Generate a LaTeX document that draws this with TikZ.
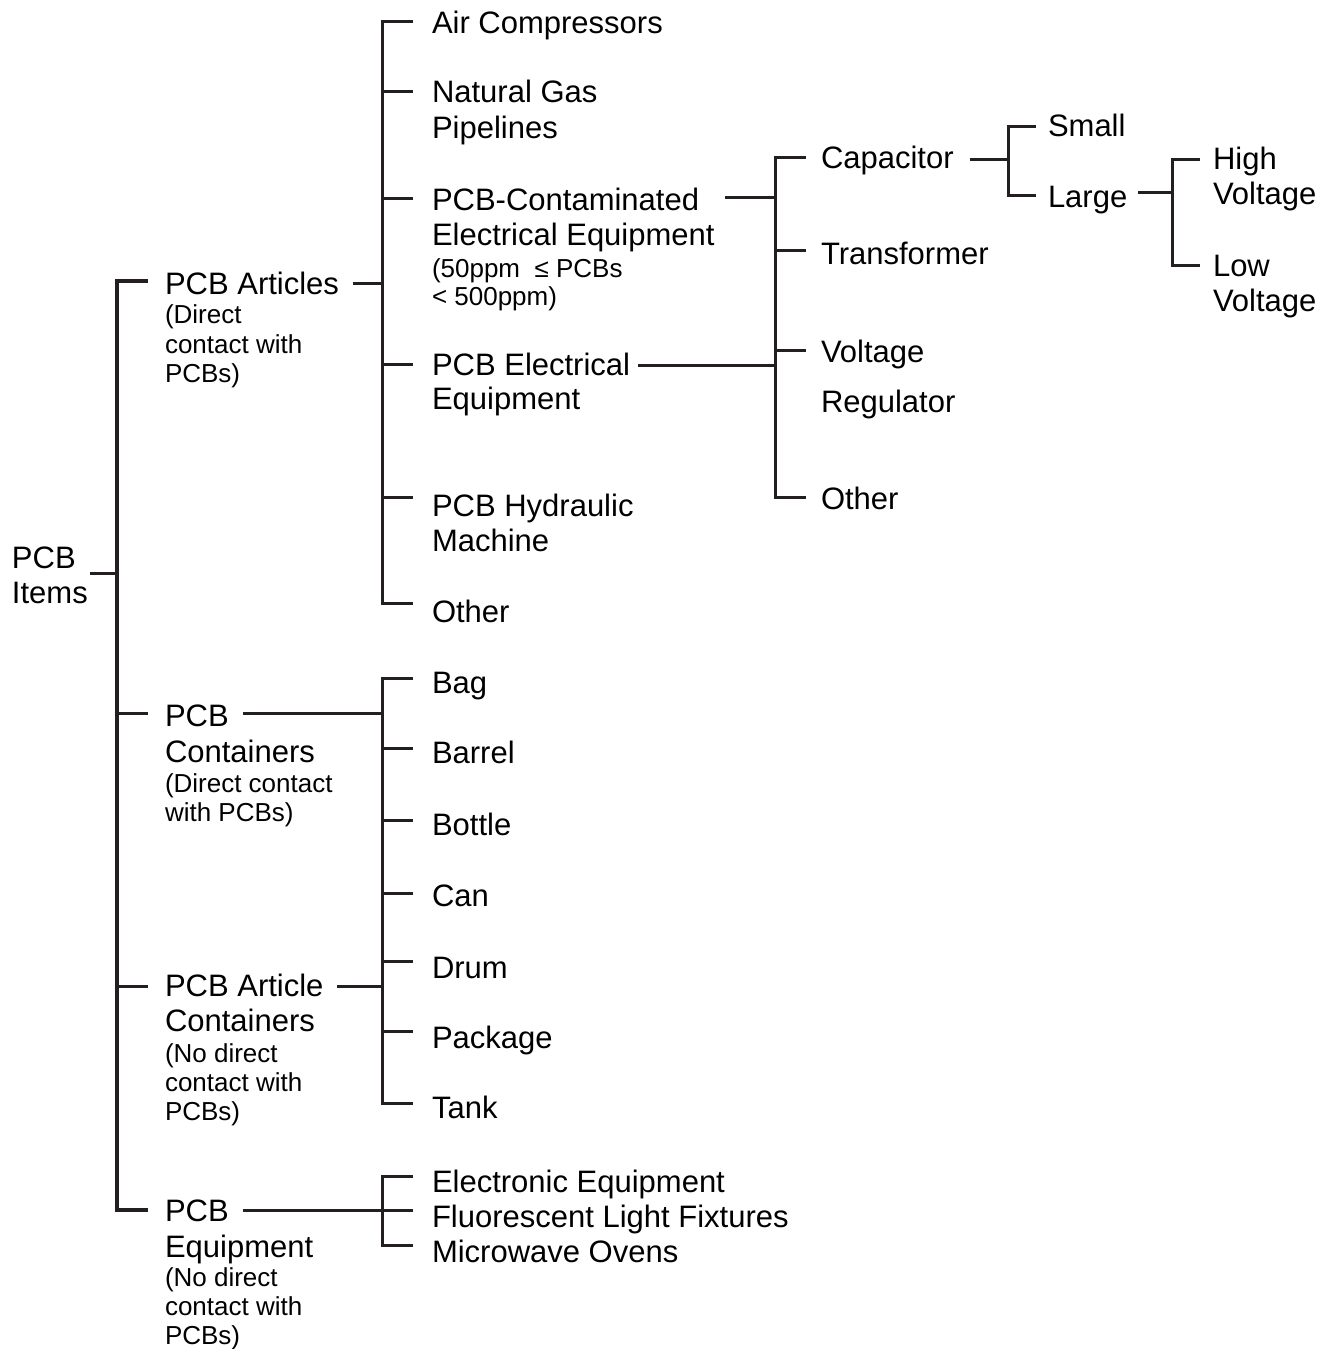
\documentclass[tikz,border=0pt]{standalone}
\usepackage{fontspec}
\setmainfont{Liberation Sans}
\definecolor{ink}{HTML}{231F20}
% font sizes for headings and notes
\newcommand\mainfs{\fontsize{31}{35}\selectfont}
\newcommand\subfs{\fontsize{26}{30}\selectfont}
% one line of a stacked label; optional arg = baseline distance to the line above
\newcommand\mainln[2][35]{\baselineskip=#1pt\hbox{\mainfs #2}}
\newcommand\subln[2][29.5]{\baselineskip=#1pt\hbox{\subfs #2}}
\begin{document}
\begin{tikzpicture}[x=1pt,y=-1pt,
  lbl/.style={anchor=base west,inner sep=0pt,outer sep=0pt,text=black,font=\mainfs},
  ln/.style={draw=ink,line width=3pt},
  trunk/.style={draw=ink,line width=3.6pt}]
\useasboundingbox (0,0) rectangle (1336,1349);

% ---------- labels ----------
\node[lbl] (items) at (12,568) {\vtop{\mainln{PCB}\mainln{Items}}};

\node[lbl] (art) at (165,294) {\vtop{\mainln{PCB Articles}\subln{(Direct}\subln{contact with}\subln{PCBs)}}};
\node[lbl] (pcont) at (165,726) {\vtop{\mainln{PCB}\mainln[36]{Containers}\subln[30]{(Direct contact}\subln[29]{with PCBs)}}};
\node[lbl] (pacont) at (165,996) {\vtop{\mainln{PCB Article}\mainln{Containers}\subln[31]{(No direct}\subln[29]{contact with}\subln[29]{PCBs)}}};
\node[lbl] (peq) at (165,1221) {\vtop{\mainln{PCB}\mainln[36]{Equipment}\subln[29]{(No direct}\subln[29]{contact with}\subln[29]{PCBs)}}};

\node[lbl] (air) at (432,33) {Air Compressors};
\node[lbl] (gas) at (432,102) {\vtop{\mainln{Natural Gas}\mainln[36]{Pipelines}}};
\node[lbl] (cont) at (432,210) {\vtop{\mainln{PCB-Contaminated}\mainln{Electrical Equipment}\subln[32]{(50ppm\ \ ≤ PCBs}\subln[28]{< 500ppm)}}};
\node[lbl] (elec) at (432,375) {\vtop{\mainln{PCB Electrical}\mainln[34]{Equipment}}};
\node[lbl] (hyd) at (432,516) {\vtop{\mainln{PCB Hydraulic}\mainln{Machine}}};
\node[lbl] (oth1) at (432,622) {Other};

\node[lbl] (cap) at (821,168) {Capacitor};
\node[lbl] (trans) at (821,264) {Transformer};
\node[lbl] (volt) at (821,362) {\vtop{\mainln{Voltage}\mainln[50]{Regulator}}};
\node[lbl] (oth2) at (821,509) {Other};

\node[lbl] (small) at (1048,136) {Small};
\node[lbl] (large) at (1048,207) {Large};
\node[lbl] (high) at (1213,169) {\vtop{\mainln{High}\mainln{Voltage}}};
\node[lbl] (low) at (1213,276) {\vtop{\mainln{Low}\mainln{Voltage}}};

\node[lbl] (bag) at (432,693) {Bag};
\node[lbl] (barrel) at (432,763) {Barrel};
\node[lbl] (bottle) at (432,835) {Bottle};
\node[lbl] (can) at (432,906) {Can};
\node[lbl] (drum) at (432,978) {Drum};
\node[lbl] (package) at (432,1048) {Package};
\node[lbl] (tank) at (432,1118) {Tank};

\node[lbl] (ee) at (432,1192) {Electronic Equipment};
\node[lbl] (flf) at (432,1227) {Fluorescent Light Fixtures};
\node[lbl] (mo) at (432,1262) {Microwave Ovens};

% ---------- connector end points ----------
% root bracket
\coordinate (items-out) at (90,573);
\coordinate (art-in) at (148,281);
\coordinate (pcont-in) at (148,713);
\coordinate (pacont-in) at (148,986);
\coordinate (peq-in) at (148,1210);
\coordinate (trunk-end) at (117,1210);
% articles bracket
\coordinate (art-out) at (353,283);
\coordinate (air-in) at (413,21);
\coordinate (gas-in) at (413,91);
\coordinate (cont-in) at (413,198);
\coordinate (elec-in) at (413,364);
\coordinate (hyd-in) at (413,497);
\coordinate (oth1-in) at (413,603);
\coordinate (art-end) at (382,603);
% equipment types bracket
\coordinate (cont-out) at (725,197);
\coordinate (elec-out) at (638,365);
\coordinate (cap-in) at (806,157);
\coordinate (trans-in) at (806,250);
\coordinate (volt-in) at (806,350);
\coordinate (oth2-in) at (806,497);
\coordinate (type-end) at (775,497);
% capacitor bracket
\coordinate (cap-out) at (970,159);
\coordinate (small-in) at (1036,126);
\coordinate (large-in) at (1036,195);
\coordinate (size-end) at (1008,195);
% voltage bracket
\coordinate (large-out) at (1138,192);
\coordinate (high-in) at (1200,159);
\coordinate (low-in) at (1200,265);
\coordinate (volt-end) at (1172,265);
% containers bracket
\coordinate (pcont-out) at (243,713);
\coordinate (pacont-out) at (337,986);
\coordinate (bag-in) at (413,678);
\coordinate (barrel-in) at (413,748);
\coordinate (bottle-in) at (413,820);
\coordinate (can-in) at (413,893);
\coordinate (drum-in) at (413,961);
\coordinate (package-in) at (413,1031);
\coordinate (tank-in) at (413,1103);
\coordinate (box-end) at (382,1103);
% equipment bracket
\coordinate (peq-out) at (243,1210);
\coordinate (ee-in) at (413,1176);
\coordinate (flf-in) at (413,1210);
\coordinate (mo-in) at (413,1245);
\coordinate (eq-end) at (382,1245);

% ---------- connectors ----------
\draw[trunk] (art-in) -| (trunk-end) -- (peq-in);
\draw[ln] (pcont-in) -- (pcont-in -| trunk-end);
\draw[ln] (pacont-in) -- (pacont-in -| trunk-end);
\draw[ln] (items-out) -- (items-out -| trunk-end);

\draw[ln] (air-in) -| (art-end) -- (oth1-in);
\foreach \c in {gas-in,cont-in,elec-in,hyd-in,art-out}
  \draw[ln] (\c) -- (\c -| art-end);

\draw[ln] (cap-in) -| (type-end) -- (oth2-in);
\foreach \c in {trans-in,volt-in,cont-out,elec-out}
  \draw[ln] (\c) -- (\c -| type-end);

\draw[ln] (small-in) -| (size-end) -- (large-in);
\draw[ln] (cap-out) -- (cap-out -| size-end);

\draw[ln] (high-in) -| (volt-end) -- (low-in);
\draw[ln] (large-out) -- (large-out -| volt-end);

\draw[ln] (bag-in) -| (box-end) -- (tank-in);
\foreach \c in {barrel-in,bottle-in,can-in,drum-in,package-in,pcont-out,pacont-out}
  \draw[ln] (\c) -- (\c -| box-end);

\draw[ln] (ee-in) -| (eq-end) -- (mo-in);
\foreach \c in {flf-in,peq-out}
  \draw[ln] (\c) -- (\c -| eq-end);
\end{tikzpicture}
\end{document}
